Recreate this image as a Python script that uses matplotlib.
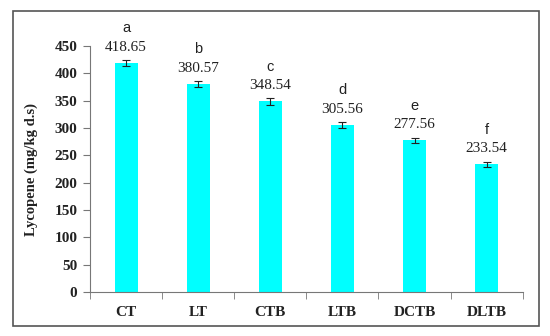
import matplotlib
matplotlib.use("Agg")
import matplotlib.pyplot as plt
import numpy as np
from matplotlib.patches import Rectangle

# donnees
categories = ["CT", "LT", "CTB", "LTB", "DCTB", "DLTB"]
valeurs = [418.65, 380.57, 348.54, 305.56, 277.56, 233.54]
erreurs = [6, 6, 6, 5, 5, 4]
lettres = ["a", "b", "c", "d", "e", "f"]

fig = plt.figure(figsize=(5.5, 3.36), dpi=100)
ax = fig.add_axes([0.1636, 0.131, 0.7868, 0.732])

# cadre exterieur
fig.patches.append(Rectangle((13/550, 1 - 326/336), (539-13)/550, (326-11)/336,
                             transform=fig.transFigure, fill=False,
                             edgecolor="#555555", linewidth=1.2))

x = np.arange(len(categories))
ax.bar(x, valeurs, width=0.32, color="#00FFFF", zorder=2)
ax.errorbar(x, valeurs, yerr=erreurs, fmt="none", ecolor="#222222",
            elinewidth=0.8, capsize=3, capthick=0.8, zorder=3)

for xi, v, l in zip(x, valeurs, lettres):
    ax.annotate(f"{v:.2f}", (xi, v), xytext=(0, 11.5), textcoords="offset points",
                ha="center", va="center", family="Liberation Serif",
                fontsize=11, color="#222222")
    ax.annotate(l, (xi, v), xytext=(0, 25), textcoords="offset points",
                ha="center", va="center", family="Liberation Sans",
                fontsize=10.5, color="#222222")

ax.set_xlim(-0.5, 5.5)
ax.set_ylim(0, 450)
ax.set_yticks(np.arange(0, 451, 50))
ax.set_xticks(x)
ax.set_xticklabels(categories)
ax.set_xticks(np.arange(-0.5, 6, 1), minor=True)
ax.tick_params(axis="x", which="major", length=0, pad=10)
ax.tick_params(axis="x", which="minor", length=5, direction="out", color="#777777")
ax.tick_params(axis="y", length=5, direction="out", color="#777777", pad=4)

for lab in ax.get_xticklabels() + ax.get_yticklabels():
    lab.set_family("Liberation Serif")
    lab.set_fontweight("bold")
    lab.set_fontsize(11)
    lab.set_color("#222222")

ax.spines["top"].set_visible(False)
ax.spines["right"].set_visible(False)
ax.spines["left"].set_color("#777777")
ax.spines["bottom"].set_color("#777777")

ax.set_ylabel("Lycopene (mg/kg d.s)", family="Liberation Serif",
              fontweight="bold", fontsize=10.5, color="#222222", labelpad=12)

fig.savefig("out.png", dpi=100)
